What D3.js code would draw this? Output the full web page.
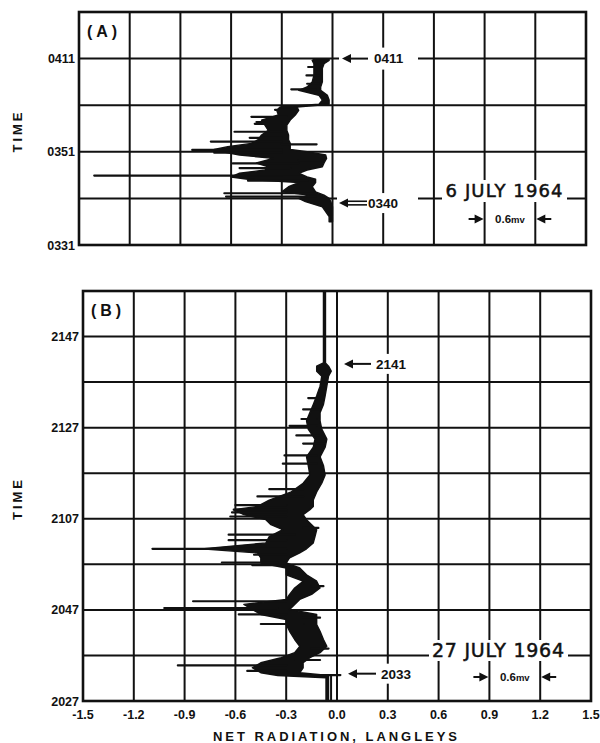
<!DOCTYPE html>
<html>
<head>
<meta charset="utf-8">
<script src="https://cdn.jsdelivr.net/npm/d3@7"></script>
<style>
body { margin: 0; background: #fff; }
text { font-family: "Liberation Sans", Arial, sans-serif; font-weight: bold; fill: #111; }
text.note { font-family: "DejaVu Sans", sans-serif; font-weight: normal; stroke: #111; stroke-width: 0.5; }
</style>
</head>
<body>
<svg id="chart"></svg>
<script>
// shared x axis, langleys
const xTicks = [-1.5, -1.2, -0.9, -0.6, -0.3, 0, 0.3, 0.6, 0.9, 1.2, 1.5];
const xTickLabels = ["-1.5", "-1.2", "-0.9", "-0.6", "-0.3", "0.0", "0.3", "0.6", "0.9", "1.2", "1.5"];

// panel A, minutes after 0331 (6 July 1964)
const minutesA = [5.0, 6.1, 8.2, 9.3, 10.0, 10.7, 11.4, 12.5, 13.4, 14.1, 14.6, 15.4, 16.1, 16.8, 17.6, 18.6, 19.3,
                  20.0, 20.5, 21.1, 21.8, 22.6, 23.6, 24.6, 25.7, 26.8, 27.9, 28.9, 29.6, 30.2, 31.1, 32.1, 33.2,
                  33.9, 35.0, 36.4, 37.9, 38.9, 39.6, 40.0];
const lowA  = [-0.02, -0.02, -0.06, -0.16, -0.2, -0.14, -0.3, -0.26, -0.2, -0.5, -0.6, -0.55, -0.4, -0.38, -0.45, -0.35, -0.55,
               -0.65, -0.7, -0.62, -0.48, -0.44, -0.42, -0.38, -0.4, -0.42, -0.32, -0.33, -0.31, -0.08, -0.06, -0.08, -0.2,
               -0.15, -0.12, -0.11, -0.11, -0.11, -0.12, -0.1];
const highA = [0.0, 0.0, 0.0, -0.01, -0.02, -0.05, -0.1, -0.12, -0.1, -0.1, -0.15, -0.2, -0.15, -0.06, -0.05, -0.035, -0.04,
               -0.15, -0.25, -0.25, -0.25, -0.26, -0.26, -0.27, -0.27, -0.25, -0.22, -0.2, -0.21, -0.02, -0.02, -0.03, -0.07,
               -0.07, -0.06, -0.06, -0.06, -0.05, -0.02, -0.02];
// [minute, from, to]
const spikesA = [[10.4, -0.1, -0.63], [11.1, -0.1, -0.64], [13.8, -0.15, -0.5], [14.9, -0.3, -1.41], [15.2, -0.2, -0.52],
                 [16.5, -0.25, -0.55], [17.5, -0.2, -0.59], [18.2, -0.2, -0.06], [19.8, -0.3, -0.7], [20.4, -0.3, -0.83],
                 [21.6, -0.3, -0.094], [22.2, -0.3, -0.72], [23.0, -0.3, -0.49], [24.3, -0.3, -0.58], [26.0, -0.3, -0.46],
                 [26.4, -0.3, -0.45], [27.5, -0.27, -0.48], [29.0, -0.25, -0.34], [33.4, -0.1, -0.244], [34.6, -0.08, -0.15],
                 [36.4, -0.08, -0.154], [38.2, -0.08, -0.144]];
const timeTicksA = [0, 20, 40];
const timeLabelsA = ["0331", "0351", "0411"];

// panel B, minutes after 2027 (27 July 1964)
const minutesB = [0, 5.1, 5.6, 6.2, 7.3, 8.4, 9.5, 10.6, 12.0, 13.5, 15.3, 16.8, 17.9, 19.0, 20.1, 21.2, 22.3, 23.4,
                  24.8, 26.3, 27.7, 29.2, 30.3, 31.4, 32.5, 33.4, 34.7, 36.1, 37.6, 38.7, 39.8, 40.9, 42.0, 42.7,
                  44.1, 45.9, 47.8, 49.6, 51.7, 53.6, 55.7, 57.5, 59.7, 61.5, 63.3, 65.1, 67.0, 69.1, 71.3, 72.4,
                  73.5, 74.2, 90];
const lowB  = [-0.065, -0.065, -0.35, -0.45, -0.5, -0.45, -0.33, -0.25, -0.22, -0.25, -0.28, -0.3, -0.3, -0.45, -0.5, -0.55, -0.3, -0.28,
               -0.25, -0.2, -0.3, -0.3, -0.45, -0.45, -0.47, -0.8, -0.42, -0.4, -0.32, -0.39, -0.42, -0.55, -0.61, -0.47,
               -0.4, -0.27, -0.2, -0.16, -0.17, -0.18, -0.14, -0.13, -0.17, -0.18, -0.16, -0.14, -0.12, -0.1, -0.09, -0.12,
               -0.12, -0.08, -0.08];
const highB = [-0.05, -0.05, -0.05, -0.22, -0.2, -0.2, -0.16, -0.1, -0.06, -0.08, -0.1, -0.12, -0.12, -0.12, -0.28, -0.25, -0.22, -0.15,
               -0.1, -0.12, -0.18, -0.22, -0.3, -0.28, -0.22, -0.18, -0.14, -0.13, -0.12, -0.15, -0.18, -0.2, -0.16, -0.14,
               -0.14, -0.12, -0.09, -0.07, -0.08, -0.1, -0.07, -0.06, -0.09, -0.1, -0.1, -0.08, -0.07, -0.06, -0.05, -0.034,
               -0.05, -0.068, -0.068];
const spikesB = [[5.7, -0.1, 0.02], [6.6, -0.3, -0.53], [7.8, -0.3, -0.94], [9.0, -0.25, -0.1], [11.5, -0.15, -0.05],
                 [16.9, -0.2, -0.45], [18.3, -0.2, -0.1], [19.0, -0.3, -0.58], [20.4, -0.35, -1.02], [21.9, -0.3, -0.85],
                 [25.2, -0.15, -0.08], [29.8, -0.3, -0.5], [30.4, -0.35, -0.68], [32.1, -0.3, -0.49], [33.4, -0.3, -1.09],
                 [35.3, -0.3, -0.64], [36.5, -0.25, -0.64], [38.0, -0.2, -0.11], [40.5, -0.3, -0.63], [41.4, -0.3, -0.62],
                 [42.0, -0.3, -0.61], [43.0, -0.3, -0.6], [44.9, -0.2, -0.47], [46.5, -0.2, -0.4], [52.1, -0.12, -0.32],
                 [53.9, -0.12, -0.31], [56.5, -0.08, -0.2], [58.3, -0.1, -0.24], [60.4, -0.12, -0.28], [61.9, -0.12, -0.21],
                 [64.0, -0.1, -0.2], [66.5, -0.08, -0.17]];
// second pen line below start
const tailB = [[0, -0.035], [5.5, -0.035]];
const timeTicksB = [0, 20, 40, 60, 80];
const timeLabelsB = ["2027", "2047", "2107", "2127", "2147"];

const ink = "#111";

const svg = d3.select("#chart").attr("width", 600).attr("height", 743);
svg.append("rect").attr("width", 600).attr("height", 743).attr("fill", "#fff");

function drawPanel(p) {
    const x = d3.scaleLinear().domain([-1.5, 1.5]).range([p.left, p.right]);
    const y = d3.scaleLinear().domain([0, p.tMax]).range([p.bottom, p.top]);
    const g = svg.append("g");

    // grid
    g.append("g").selectAll("line").data(xTicks).join("line")
        .attr("x1", d => x(d)).attr("x2", d => x(d))
        .attr("y1", p.top).attr("y2", p.bottom)
        .attr("stroke", ink).attr("stroke-width", 2);
    g.append("g").selectAll("line").data(d3.range(10, p.tMax, 10)).join("line")
        .attr("x1", p.left).attr("x2", p.right)
        .attr("y1", d => y(d)).attr("y2", d => y(d))
        .attr("stroke", ink).attr("stroke-width", 2);

    // recorder trace
    const rows = p.minutes.map((t, i) => ({t: t, lo: p.low[i], hi: p.high[i]}));
    const band = d3.area()
        .y(d => y(d.t))
        .x0(d => x(d.lo))
        .x1(d => x(d.hi))
        .curve(d3.curveLinear);
    g.append("path").datum(rows)
        .attr("d", band)
        .attr("fill", ink).attr("stroke", ink)
        .attr("stroke-width", 1.4).attr("stroke-linejoin", "round");

    g.append("g").selectAll("line").data(p.spikes).join("line")
        .attr("x1", d => x(d[1])).attr("x2", d => x(d[2]))
        .attr("y1", d => y(d[0])).attr("y2", d => y(d[0]))
        .attr("stroke", ink).attr("stroke-width", 2.2).attr("stroke-linecap", "round");

    if (p.tail) {
        g.append("path").datum(p.tail)
            .attr("d", d3.line().x(d => x(d[1])).y(d => y(d[0])))
            .attr("fill", "none").attr("stroke", ink).attr("stroke-width", 2);
    }

    // time labels
    g.append("g").selectAll("text").data(p.timeTicks).join("text")
        .attr("x", p.left - 4).attr("y", d => y(d)).attr("dy", "0.36em")
        .attr("text-anchor", "end").style("font-size", "12.5px")
        .text((d, i) => p.timeLabels[i]);

    g.append("text")
        .attr("transform", "translate(22," + ((p.top + p.bottom) / 2 + 4) + ") rotate(-90)")
        .attr("text-anchor", "middle")
        .attr("textLength", 40).attr("lengthAdjust", "spacing")
        .style("font-size", "13px")
        .text("TIME");

    g.append("text")
        .attr("x", p.left + 8).attr("y", p.top + 25)
        .attr("textLength", 30).attr("lengthAdjust", "spacing")
        .style("font-size", "16px")
        .text(p.name);

    return {x: x, y: y, g: g};
}

function whiteBox(g, x0, y0, x1, y1) {
    g.append("rect").attr("x", x0).attr("y", y0)
        .attr("width", x1 - x0).attr("height", y1 - y0)
        .attr("fill", "#fff");
}

function arrow(g, xFrom, xTip, yy, double) {
    const dir = xTip > xFrom ? 1 : -1;
    const offs = double ? [-1.8, 1.8] : [0];
    offs.forEach(o => {
        g.append("line")
            .attr("x1", xFrom).attr("x2", xTip - dir * 6)
            .attr("y1", yy + o).attr("y2", yy + o)
            .attr("stroke", ink).attr("stroke-width", double ? 1.6 : 2);
    });
    g.append("path")
        .attr("d", "M" + xTip + "," + yy + "L" + (xTip - dir * 9) + "," + (yy - 4.5) + "L" + (xTip - dir * 9) + "," + (yy + 4.5) + "Z")
        .attr("fill", ink);
}

function label(g, x, yy, txt, size, anchor) {
    return g.append("text").attr("x", x).attr("y", yy).attr("dy", "0.36em")
        .attr("text-anchor", anchor || "start").style("font-size", size + "px").text(txt);
}

function scaleBar(g, x, yy, size) {
    const xl = x(0.9), xr = x(1.2);
    arrow(g, xl - 16, xl - 1, yy, false);
    arrow(g, xr + 16, xr + 1, yy, false);
    const t = g.append("text").attr("x", (xl + xr) / 2).attr("y", yy).attr("dy", "0.36em")
        .attr("text-anchor", "middle").style("font-size", size + "px");
    t.append("tspan").text("0.6");
    t.append("tspan").style("font-size", (size - 2) + "px").text("mv");
}

function border(g, p) {
    g.append("rect").attr("x", p.left).attr("y", p.top)
        .attr("width", p.right - p.left).attr("height", p.bottom - p.top)
        .attr("fill", "none").attr("stroke", ink).attr("stroke-width", 2.6);
}

// panel A
const panelA = {name: "(A)", left: 79, right: 586, top: 12, bottom: 245, tMax: 50,
                minutes: minutesA, low: lowA, high: highA, spikes: spikesA,
                timeTicks: timeTicksA, timeLabels: timeLabelsA};
const a = drawPanel(panelA);
whiteBox(a.g, 339, a.y(40) - 11, 418, a.y(40) + 11);
arrow(a.g, 368, 342, a.y(40), false);
label(a.g, 374, a.y(40), "0411", 13.5);
whiteBox(a.g, 337, a.y(9) - 10, 418, a.y(9) + 10);
arrow(a.g, 367, 339, a.y(9), true);
label(a.g, 368, a.y(9), "0340", 13.5);
whiteBox(a.g, 442, 180, 567, 202);
label(a.g, 504, 191, "6 JULY 1964", 18, "middle").attr("class", "note")
    .attr("textLength", 117).attr("lengthAdjust", "spacing");
scaleBar(a.g, a.x, 219, 11.5);
border(a.g, panelA);

// panel B
const panelB = {name: "(B)", left: 83, right: 591, top: 291, bottom: 701, tMax: 90,
                minutes: minutesB, low: lowB, high: highB, spikes: spikesB, tail: tailB,
                timeTicks: timeTicksB, timeLabels: timeLabelsB};
const b = drawPanel(panelB);
whiteBox(b.g, 341, b.y(74) - 10, 414, b.y(74) + 10);
arrow(b.g, 371, 344, b.y(74), false);
label(b.g, 376, b.y(74), "2141", 13.5);
whiteBox(b.g, 345, b.y(6) - 10, 422, b.y(6) + 10);
arrow(b.g, 376, 348, b.y(6), false);
label(b.g, 381, b.y(6), "2033", 13.5);
whiteBox(b.g, 429, 640, 568, 661);
label(b.g, 498, 650, "27 JULY 1964", 19, "middle").attr("class", "note")
    .attr("textLength", 132).attr("lengthAdjust", "spacing");
scaleBar(b.g, b.x, 677, 11.5);
border(b.g, panelB);

// x axis labels
svg.append("g").selectAll("text").data(xTicks).join("text")
    .attr("x", d => b.x(d)).attr("y", 719)
    .attr("text-anchor", "middle").style("font-size", "12.5px")
    .text((d, i) => xTickLabels[i]);

svg.append("text")
    .attr("x", 335).attr("y", 741)
    .attr("text-anchor", "middle")
    .attr("textLength", 244).attr("lengthAdjust", "spacing")
    .style("font-size", "13px")
    .text("NET RADIATION, LANGLEYS");
</script>
</body>
</html>
